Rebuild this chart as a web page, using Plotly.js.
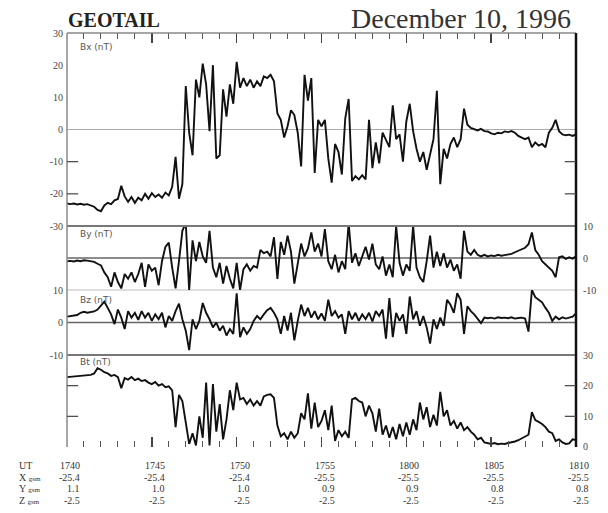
<!DOCTYPE html>
<html>
<head>
<meta charset="utf-8">
<script src="https://cdn.plot.ly/plotly-3.0.1.min.js"></script>
<style>html,body{margin:0;padding:0;background:#fff;}#chart{width:608px;height:513px;}</style>
</head>
<body>
<div id="chart"></div>
<script>
// Samples every 0.2 min from 17:40 UT (minutes after 17:40)
const stepMin = 0.2;

const Bx = [
 -23.0,-23.2,-23.0,-23.3,-23.1,-23.4,-23.2,-23.5,-24.0,-25.0,
 -25.4,-23.6,-22.8,-23.2,-22.0,-21.6,-17.5,-20.8,-22.5,-21.0,
 -22.8,-21.2,-22.0,-20.0,-21.5,-19.8,-21.0,-20.2,-21.2,-19.6,
 -20.5,-17.8,-8.5,-21.5,-17.0,13.5,-1.0,-8.0,15.5,10.0,
 20.5,14.0,-0.5,20.0,-9.0,-8.0,12.5,4.0,14.0,8.0,
 21.0,13.0,16.0,13.5,15.5,13.0,15.0,13.5,16.5,16.0,
 17.0,15.0,5.0,3.0,-2.5,1.0,6.0,4.5,-1.0,-11.5,
 17.0,9.0,16.0,-13.5,3.0,1.0,3.0,-9.0,-16.5,-4.5,
 -7.0,-14.0,3.5,9.5,-16.0,-14.5,-15.5,-14.2,-15.5,3.0,
 -12.0,-4.0,-10.5,-1.0,-3.0,-5.5,7.5,-3.0,-1.5,-10.0,
 2.5,8.0,-0.5,-6.0,-10.0,-7.0,-12.5,-8.0,-3.0,12.0,
 -17.0,-6.0,-9.0,-4.5,-2.5,-5.5,-3.0,6.5,1.5,0.5,
 0.0,-0.3,0.2,-0.5,-0.6,-1.2,-1.5,-1.0,-1.2,-0.6,
 -0.8,-0.5,-1.0,-2.0,-2.5,-3.0,-2.5,-5.5,-4.0,-5.0,
 -4.5,-5.5,-1.0,0.5,3.0,-0.5,-1.5,-1.8,-1.6,-2.0,
 -1.5
];

const By = [
 -1.0,-0.9,-1.1,-0.8,-1.0,-0.7,-0.8,-0.9,-1.2,-1.8,
 -2.3,-4.5,-6.0,-9.0,-4.5,-7.5,-9.5,-5.0,-6.5,-4.5,
 -7.5,-5.0,-1.5,-9.0,-2.0,-4.0,-3.0,-8.5,-1.0,3.5,
 4.8,-3.0,-9.5,-1.0,8.5,11.0,-10.0,5.5,-1.0,5.0,
 0.5,-1.5,8.5,-3.0,-6.0,-1.5,-8.0,-2.5,-6.5,-9.5,
 -1.5,-10.0,-3.5,-2.0,-4.0,-2.5,-3.0,2.5,1.5,2.0,
 0.5,6.5,-6.5,5.0,1.0,7.0,2.0,-8.0,-1.0,4.5,
 0.5,3.0,8.0,2.0,4.5,0.5,9.0,-1.0,-3.5,1.0,
 -4.5,-1.0,-3.5,11.0,-1.5,1.5,-2.5,0.5,3.5,-0.5,
 4.5,-2.0,-3.5,0.5,-5.5,-2.0,-6.0,10.0,-1.5,-5.5,
 -2.0,-4.0,10.0,-3.0,-6.0,-7.5,-1.0,7.0,-3.0,2.0,
 -2.5,1.5,-3.0,-0.5,-4.0,-2.0,-6.5,8.5,2.0,1.0,
 2.5,1.0,0.5,1.0,0.5,0.8,0.6,1.0,0.7,0.9,
 1.0,1.3,1.8,2.2,2.8,3.2,4.3,8.0,2.5,1.0,
 -1.0,-2.0,-2.8,-4.0,-6.0,0.2,0.5,-0.3,0.2,-0.2,
 0.5
];

const Bz = [
 1.8,2.0,2.2,2.3,3.0,3.3,3.0,3.2,3.4,4.0,
 5.2,6.4,4.5,2.5,-0.5,4.0,1.5,-2.0,3.5,1.5,
 3.0,0.8,3.5,1.5,3.0,0.5,2.5,1.0,3.0,-1.5,
 2.0,0.5,3.5,5.8,1.0,-2.5,-8.5,1.0,-2.0,0.5,
 6.0,3.0,1.0,-1.5,0.0,-2.5,-1.0,-4.0,-2.0,-3.5,
 9.0,-4.5,-1.5,-3.5,-2.0,0.5,2.0,1.0,2.5,3.8,
 4.5,3.0,1.0,-3.5,2.0,-2.5,3.0,-5.5,0.5,5.5,
 2.0,4.5,1.5,3.5,1.0,2.8,0.5,7.0,2.0,3.5,
 1.5,2.5,-3.5,3.5,1.0,3.0,0.5,2.5,1.0,3.0,
 0.3,3.5,2.0,4.0,-5.0,7.5,-4.5,3.0,0.5,2.5,
 -3.5,8.0,1.0,3.5,-1.0,2.0,-1.5,-6.5,1.0,-2.0,
 1.5,-1.0,7.0,5.5,3.0,9.0,7.0,-3.5,5.0,3.5,
 2.5,1.0,-0.2,1.5,1.3,1.5,1.2,1.6,1.4,1.5,
 1.3,1.6,1.2,1.4,1.5,1.2,-2.8,10.0,7.8,7.0,
 6.2,4.5,3.0,0.5,1.8,1.0,1.6,1.2,1.5,1.8,
 2.8
];

const Bt = [
 22.8,22.9,23.0,23.0,23.2,23.2,23.3,23.5,24.0,25.7,
 25.2,24.4,24.0,23.2,23.5,22.8,19.2,22.5,22.0,22.8,
 21.8,22.3,21.5,21.8,21.0,20.5,21.2,20.0,20.5,19.5,
 19.8,18.5,6.5,17.0,15.0,8.0,1.0,4.5,0.5,10.0,
 3.0,21.0,0.5,20.5,5.0,14.0,2.5,9.0,18.5,12.0,
 21.0,15.5,16.0,14.0,15.5,13.5,15.0,13.5,16.5,17.0,
 17.2,16.0,7.0,3.5,4.5,2.5,5.0,3.0,4.5,11.0,
 9.0,17.5,6.0,14.5,6.5,8.5,12.0,5.5,13.5,2.0,
 5.5,3.5,5.0,3.0,15.5,16.0,15.0,14.5,10.0,13.5,
 11.0,5.0,12.5,4.0,7.0,3.0,6.5,2.5,7.5,3.5,
 8.0,4.0,9.0,5.5,14.5,9.0,13.0,6.5,10.5,7.0,
 18.0,10.0,12.0,7.0,8.5,6.0,8.0,5.5,6.5,5.0,
 4.0,2.5,3.0,1.5,1.2,1.0,1.3,0.9,1.1,1.0,
 1.3,1.5,1.8,2.2,2.8,3.5,4.0,11.4,8.8,8.2,
 7.5,6.5,5.0,4.5,2.0,2.5,1.5,1.0,1.2,2.5,
 2.3
];

// Orbit table
const utLabels = ['1740','1745','1750','1755','1800','1805','1810'];
const xGsm = ['-25.4','-25.4','-25.4','-25.5','-25.5','-25.5','-25.5'];
const yGsm = ['1.1','1.0','1.0','0.9','0.9','0.8','0.8'];
const zGsm = ['-2.5','-2.5','-2.5','-2.5','-2.5','-2.5','-2.5'];
const rowNames = ['UT', 'X <span style="font-size:7px">gsm</span>', 'Y <span style="font-size:7px">gsm</span>', 'Z <span style="font-size:7px">gsm</span>'];

// Axis tick labels
const bxTicks = [-30,-20,-10,0,10,20,30];
const byTicks = [-10,0,10];
const bzTicks = [-10,0,10];
const btTicks = [0,10,20,30];
const panelNames = ['Bx (nT)','By (nT)','Bz (nT)','Bt (nT)'];

const t = Bx.map((_, i) => +(i * stepMin).toFixed(2));

const lineStyle = {color:'#111', width:1.9};
const traces = [
  {x:t, y:Bx, xaxis:'x2', yaxis:'y',  mode:'lines', line:lineStyle},
  {x:t, y:By, xaxis:'x',  yaxis:'y2', mode:'lines', line:lineStyle},
  {x:t, y:Bz, xaxis:'x',  yaxis:'y3', mode:'lines', line:lineStyle},
  {x:t, y:Bt, xaxis:'x',  yaxis:'y4', mode:'lines', line:lineStyle}
];

const tickFont = {family:'Liberation Serif', size:10, color:'#444'};
const timeAxis = {
  range:[0,30], showgrid:false, zeroline:false, showline:false,
  showticklabels:false, ticks:'inside', tick0:0, dtick:5, ticklen:10,
  tickwidth:1.5, tickcolor:'#444',
  minor:{ticks:'inside', dtick:1, ticklen:6, tickwidth:1, tickcolor:'#555'}
};
function yAx(domain, range, vals, side, anchor) {
  return {domain:domain, range:range, tickvals:vals, ticktext:vals.map(String),
    side:side, anchor:anchor, showgrid:false, zeroline:false, showline:false,
    ticks:'', tickfont:tickFont, ticklabelstandoff: side==='right' ? 6 : 3};
}

const dBt = [0, 0.2222], dBz = [0.2222, 0.3792], dBy = [0.3792, 0.5338], dBx = [0.5338, 1];

const shapes = [];
function hline(yref, y, color, width, layer) {
  shapes.push({type:'line', xref:'paper', yref:yref, x0:0, x1:1, y0:y, y1:y,
    line:{color:color, width:width}, layer:layer||'below'});
}
hline('y', 0, '#aaaaaa', 1);
hline('y2', 0, '#666666', 1.6);
hline('y3', 0, '#666666', 1.6);
hline('paper', dBx[0], '#777777', 2.2, 'above');
hline('paper', dBy[0], '#bbbbbb', 1, 'below');
hline('paper', dBz[0], '#777777', 2.2, 'above');
hline('paper', 1, '#888888', 1.5, 'above');
shapes.push({type:'line', xref:'paper', yref:'paper', x0:0, x1:0, y0:0, y1:1, line:{color:'#888', width:1.5}, layer:'above'});
shapes.push({type:'line', xref:'paper', yref:'paper', x0:1, x1:1, y0:0, y1:1, line:{color:'#111', width:2.5}, layer:'above'});
// short inner ticks
function innerTicks(yref, vals) {
  vals.forEach(v => {
    shapes.push({type:'line', xref:'paper', yref:yref, x0:0, x1:0.022, y0:v, y1:v, line:{color:'#444', width:1.2}});
    shapes.push({type:'line', xref:'paper', yref:yref, x0:0.978, x1:1, y0:v, y1:v, line:{color:'#444', width:1.2}});
  });
}
innerTicks('y', [-10, -20]);
innerTicks('y4', [10, 20]);

const annotations = [];
annotations.push({xref:'paper', yref:'paper', x:-0.002, y:1.031, xanchor:'left', yanchor:'middle', showarrow:false,
  text:'<b>GEOTAIL</b>', font:{family:'Liberation Serif', size:20, color:'#222'}});
annotations.push({xref:'paper', yref:'paper', x:0.994, y:1.036, xanchor:'right', yanchor:'middle', showarrow:false,
  text:'December 10, 1996', font:{family:'Liberation Serif', size:28, color:'#333'}});
const panelY = [0.966, 0.5145, 0.355, 0.2053];
panelNames.forEach((n, i) => annotations.push({xref:'paper', yref:'paper', x:0.0216, y:panelY[i], xanchor:'left', yanchor:'middle',
  showarrow:false, text:n, font:{family:'DejaVu Sans', size:9, color:'#555'}}));

const rowY = [-0.0435, -0.0725, -0.1014, -0.1304];
const tableFont = {family:'Liberation Serif', size:10, color:'#333'};
rowNames.forEach((n, r) => annotations.push({xref:'paper', yref:'paper', x:-0.0982, y:rowY[r], xanchor:'left', yanchor:'middle',
  showarrow:false, text:n, font:tableFont}));
[utLabels, xGsm, yGsm, zGsm].forEach((row, r) => {
  row.forEach((v, c) => annotations.push({xref:'x', yref:'paper', x:c*5, y:rowY[r], xanchor:'right', yanchor:'middle',
    xshift:15, showarrow:false, text:v, font:tableFont}));
});

const layout = {
  width:608, height:513, autosize:false,
  margin:{l:67, r:32, t:33, b:66, pad:0},
  paper_bgcolor:'#fff', plot_bgcolor:'#fff', showlegend:false,
  xaxis: Object.assign({anchor:'y4', side:'bottom'}, timeAxis),
  xaxis2: Object.assign({anchor:'y', side:'top'}, timeAxis),
  yaxis:  yAx(dBx, [-30,30], bxTicks, 'left', 'x2'),
  yaxis2: yAx(dBy, [-10,10], byTicks, 'right', 'x'),
  yaxis3: yAx(dBz, [-10,10], bzTicks, 'left', 'x'),
  yaxis4: yAx(dBt, [0,30], btTicks, 'right', 'x'),
  shapes:shapes, annotations:annotations
};

Plotly.newPlot('chart', traces, layout, {staticPlot:true, displayModeBar:false});
</script>
</body>
</html>
